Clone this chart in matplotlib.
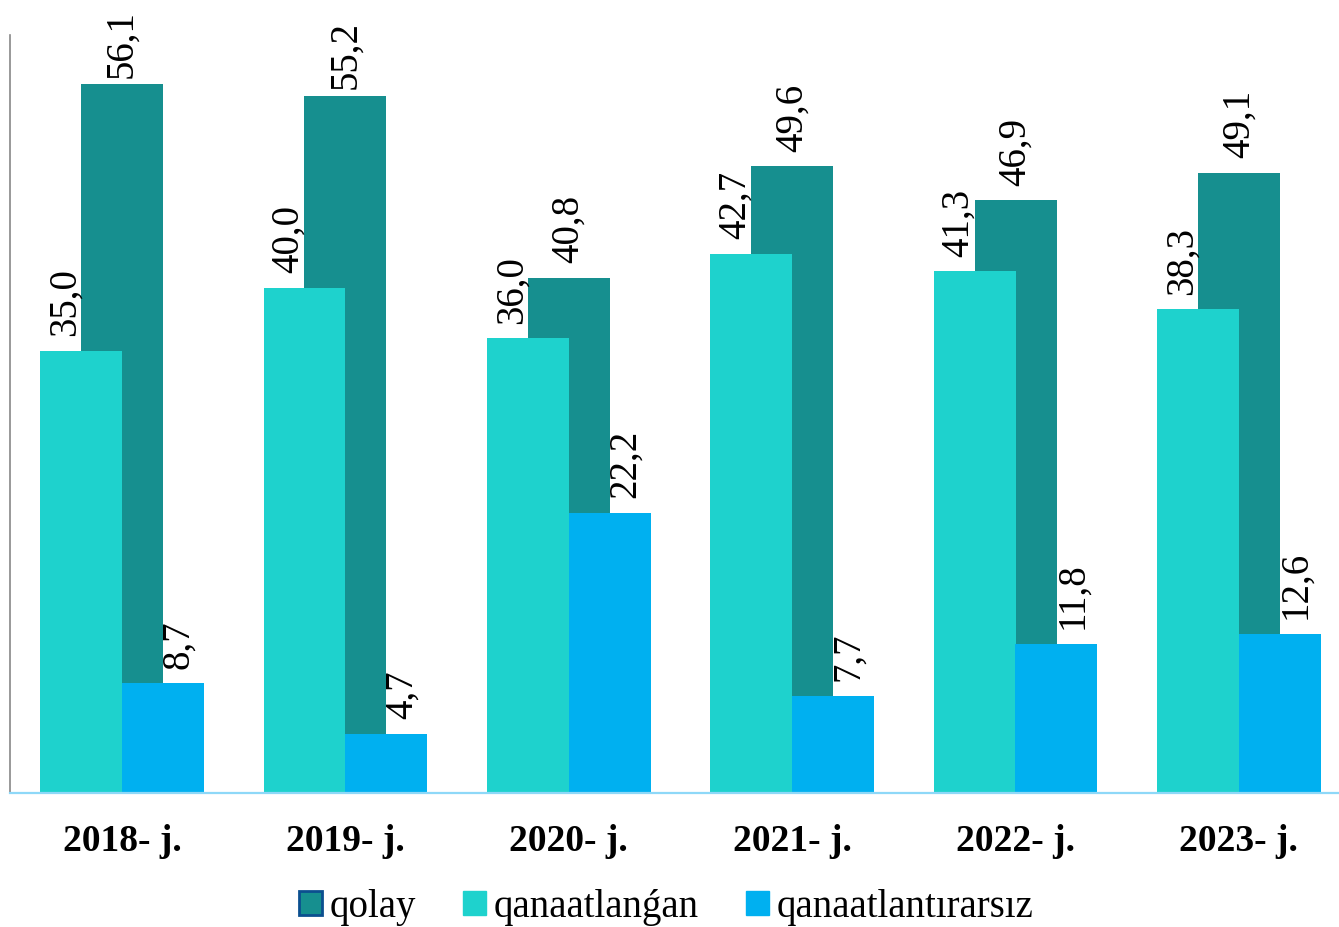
import numpy as np
import matplotlib.pyplot as plt
from matplotlib.patches import Patch

plt.rcParams['font.family'] = ['Liberation Serif', 'DejaVu Serif']

# Ma'lumotlar
years = ["2018- j.", "2019- j.", "2020- j.", "2021- j.", "2022- j.", "2023- j."]
qolay = [56.1, 55.2, 40.8, 49.6, 46.9, 49.1]
qanaatlangan = [35.0, 40.0, 36.0, 42.7, 41.3, 38.3]
qanaatlantirarsiz = [8.7, 4.7, 22.2, 7.7, 11.8, 12.6]

c_qolay = "#168F8F"
c_qan = "#1ED2CD"
c_qsiz = "#00B0F0"

fig = plt.figure(figsize=(13.39, 9.27), dpi=100)
ax = fig.add_axes([10 / 1339, 134 / 927, 1329 / 1339, 758 / 927])

x = np.arange(len(years))
w = 0.367
off = 0.183

b1 = ax.bar(x, qolay, w, color=c_qolay, zorder=1)
b2 = ax.bar(x - off, qanaatlangan, w, color=c_qan, zorder=2)
b3 = ax.bar(x + off, qanaatlantirarsiz, w, color=c_qsiz, zorder=2)


def fmt(v):
    return f"{v:.1f}".replace(".", ",")


def labels(bars, vals, dx):
    for b, v in zip(bars, vals):
        # yuqoridagi joy tor bo'lsa, yorliq barga yaqinroq
        dy = 4.5 if v > 54 else 10.5
        ax.annotate(fmt(v), (b.get_x() + b.get_width() / 2, v),
                    xytext=(dx, dy), textcoords="offset points",
                    rotation=90, ha="center", va="bottom",
                    fontsize=28, annotation_clip=False)


labels(b1, qolay, 0)
labels(b2, qanaatlangan, -11.5)
labels(b3, qanaatlantirarsiz, 11.5)

ax.set_xlim(-0.5013, 5.448)
ax.set_ylim(0, 60)
ax.set_yticks([])
ax.set_xticks(x)
ax.set_xticklabels(years, fontsize=27, fontweight="bold")
ax.tick_params(axis="x", length=0, pad=22)

for s in ["top", "right"]:
    ax.spines[s].set_visible(False)
ax.spines["left"].set_color("#888888")
ax.spines["left"].set_linewidth(1.2)
ax.spines["bottom"].set_color("#8ED8F8")
ax.spines["bottom"].set_linewidth(1.6)

handles = [
    Patch(facecolor=c_qolay, edgecolor="#0B4F8F", linewidth=2),
    Patch(facecolor=c_qan, edgecolor=c_qan),
    Patch(facecolor=c_qsiz, edgecolor=c_qsiz),
]
fig.legend(handles, ["qolay", "qanaatlanǵan", "qanaatlantırarsız"],
           loc="center", bbox_to_anchor=(0.4975, 0.0215), ncol=3,
           frameon=False, fontsize=28, handlelength=0.6, handleheight=0.6,
           handletextpad=0.2, columnspacing=1.2)

fig.savefig("out.png", dpi=100)
